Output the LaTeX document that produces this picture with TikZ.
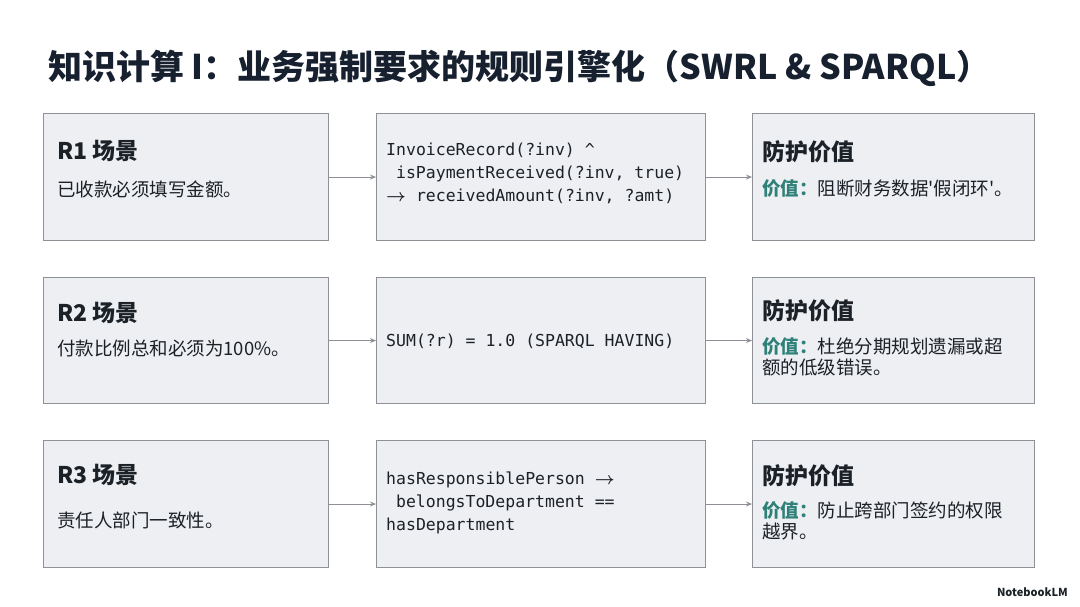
\documentclass[tikz,border=0pt]{standalone}
\usepackage{fontspec}
\setmainfont{Noto Sans CJK SC}
\setmonofont{DejaVu Sans Mono}
\newfontfamily\qfont{Noto Sans CJK SC}
\usetikzlibrary{arrows.meta}
\definecolor{boxfill}{HTML}{EDEFF2}
\definecolor{boxline}{HTML}{8E9297}
\definecolor{ink}{HTML}{1C2128}
\definecolor{titleink}{HTML}{17202E}
\definecolor{teal}{HTML}{2E8079}
\definecolor{arrowgray}{HTML}{8C9096}
\tikzset{
  card/.style={draw=boxline, fill=boxfill, line width=1.1pt},
  txt/.style={anchor=west, inner sep=0pt, text=ink, align=left},
  head/.style={txt, font=\fontsize{23}{28}\selectfont\bfseries},
  body/.style={txt, font=\fontsize{18.5}{21}\selectfont},
  code/.style={txt, font=\fontsize{16.5}{23}\selectfont\ttfamily},
  link/.style={draw=arrowgray, line width=1pt, -{Stealth[length=6pt,width=5pt]}},
}
\newcommand{\ind}{\hspace*{0.6em}}
\newcommand{\sq}{{\qfont\symbol{"27}}}
\newcommand{\codearrow}{$\boldsymbol{\rightarrow}$}
\usepackage{amsmath}
\begin{document}
\begin{tikzpicture}[x=1pt,y=-1pt]
\useasboundingbox[fill=white] (0,0) rectangle (1080,607);

% title
\node[anchor=west, inner sep=0pt, text=titleink, font=\fontsize{34}{40}\selectfont\bfseries] (title) at (48,68)
  {知识计算 I：业务强制要求的规则引擎化（SWRL \& SPARQL）};

% row 1
\node[card, minimum width=285pt, minimum height=127pt, anchor=north west] (l1) at (43,113) {};
\node[card, minimum width=329pt, minimum height=127pt, anchor=north west] (m1) at (376,113) {};
\node[card, minimum width=282pt, minimum height=127pt, anchor=north west] (r1) at (752,113) {};
\node[head] (l1h) at (57,151) {R1 场景};
\node[body] (l1b) at (57,189) {已收款必须填写金额。};
\node[code, anchor=north west] (m1c) at (386,143) {InvoiceRecord(?inv) \^{}\\\ind isPaymentReceived(?inv, true)\\\codearrow\ receivedAmount(?inv, ?amt)};
\node[head] (r1h) at (762,152) {防护价值};
\node[body] (r1b) at (762,189) {\textcolor{teal}{\bfseries 价值：}阻断财务数据\sq 假闭环\sq。};

% row 2
\node[card, minimum width=285pt, minimum height=126pt, anchor=north west] (l2) at (43,277) {};
\node[card, minimum width=329pt, minimum height=126pt, anchor=north west] (m2) at (376,277) {};
\node[card, minimum width=282pt, minimum height=126pt, anchor=north west] (r2) at (752,277) {};
\node[head] (l2h) at (57,313) {R2 场景};
\node[body] (l2b) at (57,348) {付款比例总和必须为100\%。};
\node[code] (m2c) at (386,341) {SUM(?r) = 1.0 (SPARQL HAVING)};
\node[head] (r2h) at (762,311) {防护价值};
\node[body, anchor=north west] (r2b) at (762,337) {\textcolor{teal}{\bfseries 价值：}杜绝分期规划遗漏或超\\额的低级错误。};

% row 3
\node[card, minimum width=285pt, minimum height=127pt, anchor=north west] (l3) at (43,440) {};
\node[card, minimum width=329pt, minimum height=127pt, anchor=north west] (m3) at (376,440) {};
\node[card, minimum width=282pt, minimum height=127pt, anchor=north west] (r3) at (752,440) {};
\node[head] (l3h) at (57,475) {R3 场景};
\node[body] (l3b) at (57,520) {责任人部门一致性。};
\node[code, anchor=north west] (m3c) at (386,472) {hasResponsiblePerson \codearrow\\\ind belongsToDepartment ==\\hasDepartment};
\node[head] (r3h) at (762,476) {防护价值};
\node[body, anchor=north west] (r3b) at (762,501) {\textcolor{teal}{\bfseries 价值：}防止跨部门签约的权限\\越界。};

% connectors
\draw[link] (l1) -- (m1);
\draw[link] (m1) -- (r1);
\draw[link] (l2) -- (m2);
\draw[link] (m2) -- (r2);
\draw[link] (l3) -- (m3);
\draw[link] (m3) -- (r3);

% watermark
\node[anchor=east, inner sep=0pt, text=ink, font=\fontsize{11}{13}\selectfont\bfseries] (wm) at (1068,592) {NotebookLM};
\end{tikzpicture}
\end{document}
